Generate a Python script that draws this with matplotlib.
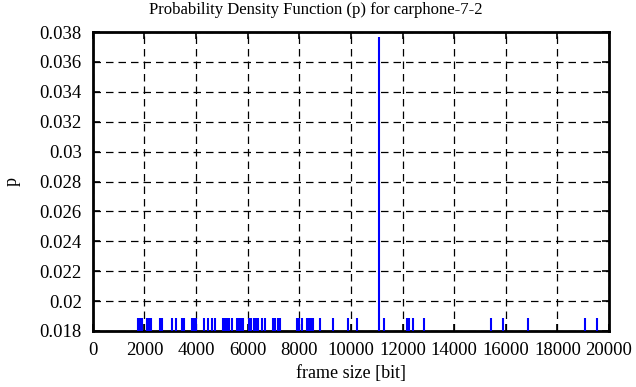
import numpy as np
import matplotlib
matplotlib.use("Agg")
import matplotlib.pyplot as plt

# frame sizes [bit] that occur
frame_sizes = np.array([
    1764, 1841, 1899, 2093, 2171, 2248, 2597, 2674, 3062, 3217,
    3450, 3527, 3837, 3915, 3992, 4302, 4457, 4612, 4729, 5039,
    5116, 5194, 5291, 5388, 5581, 5659, 5736, 5814, 6047, 6124,
    6240, 6318, 6415, 6550, 6667, 6977, 7054, 7171, 7248, 7907,
    8004, 8101, 8295, 8372, 8450, 8527, 8798, 9302, 9884, 10233,
    11090, 11279, 12171, 12268, 12403, 12849, 15426, 15891, 16860,
    19070, 19535,
])
p = np.full(len(frame_sizes), 0.01887)
p[frame_sizes == 11090] = 0.0377

xticks = np.arange(0, 20001, 2000)
yticks = [0.018, 0.02, 0.022, 0.024, 0.026, 0.028, 0.03, 0.032, 0.034, 0.036, 0.038]
ytick_labels = ["0.018", "0.02", "0.022", "0.024", "0.026", "0.028",
                "0.03", "0.032", "0.034", "0.036", "0.038"]

plt.rcParams["font.family"] = ["Liberation Serif", "DejaVu Serif"]
plt.rcParams["font.size"] = 12

fig = plt.figure(figsize=(6.36, 3.87), dpi=100)
ax = fig.add_axes([0.146, 0.145, 0.8115, 0.772])

ax.vlines(frame_sizes, 0, p, colors="#0000ff", linewidth=1.5, zorder=3)

ax.set_xlim(0, 20000)
ax.set_ylim(0.018, 0.038)
ax.set_xticks(xticks)
ax.set_yticks(yticks)
ax.set_yticklabels(ytick_labels)
ax.grid(True, color="black", linestyle=(0, (6, 4)), linewidth=0.9)
ax.tick_params(direction="in", top=True, right=True, length=5, width=1.2,
               labelsize=13.5)
ax.tick_params(axis="x", pad=8)
ax.tick_params(axis="y", pad=8)
for s in ax.spines.values():
    s.set_linewidth(2)

ax.set_xlabel("frame size [bit]", fontsize=13)
ax.xaxis.set_label_coords(0.5, -0.115)
ax.set_ylabel("p", fontsize=13)
ax.yaxis.set_label_coords(-0.14, 0.5)
fig.text(0.497, 0.975, "Probability Density Function (p) for carphone-7-2",
         ha="center", va="center", fontsize=12)

fig.savefig("out.png", dpi=100)
